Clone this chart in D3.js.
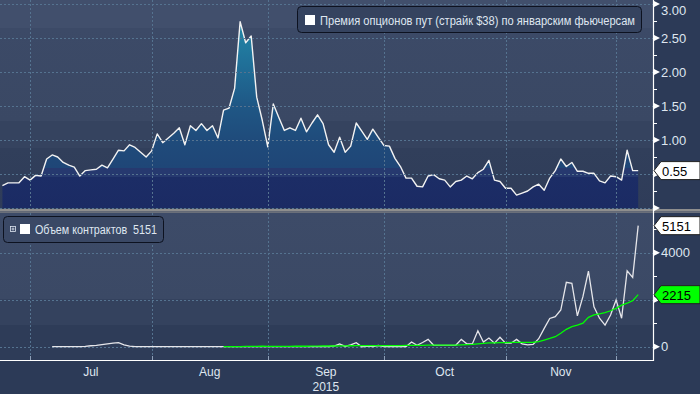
<!DOCTYPE html>
<html>
<head>
<meta charset="utf-8">
<script src="https://cdn.jsdelivr.net/npm/d3@7"></script>
<style>
  body { margin: 0; background: #2c3a57; }
  svg { display: block; font-family: "Liberation Sans", Arial, sans-serif; }
</style>
</head>
<body>
<svg id="chart" width="700" height="394"></svg>
<script>
// put premium, $ (one value per trading day, Jun 24 .. Dec 3)
const premium = [
  0.33, 0.37, 0.37, 0.37, 0.46, 0.41, 0.48, 0.47, 0.72, 0.78,
  0.75, 0.67, 0.63, 0.60, 0.47, 0.55, 0.56, 0.57, 0.63, 0.59,
  0.72, 0.85, 0.84, 0.93, 0.89, 0.82, 0.75, 0.84, 1.09, 0.96,
  1.03, 1.10, 1.18, 0.93, 1.21, 1.14, 1.24, 1.14, 1.21, 1.03,
  1.44, 1.47, 1.76, 2.74, 2.43, 2.53, 1.63, 1.29, 0.90, 1.53,
  1.33, 1.14, 1.18, 1.14, 1.32, 1.12, 1.25, 1.37, 1.24, 0.93,
  0.82, 1.04, 0.82, 0.91, 1.25, 1.13, 1.01, 1.16, 1.04, 0.92,
  0.91, 0.73, 0.61, 0.44, 0.44, 0.32, 0.31, 0.47, 0.49, 0.43,
  0.41, 0.31, 0.39, 0.41, 0.47, 0.43, 0.52, 0.57, 0.70, 0.41,
  0.39, 0.29, 0.29, 0.19, 0.22, 0.25, 0.31, 0.35, 0.26, 0.44,
  0.55, 0.72, 0.61, 0.67, 0.54, 0.54, 0.51, 0.51, 0.40, 0.37,
  0.47, 0.46, 0.41, 0.85, 0.55, 0.55
];

// contract volume (null = no data yet)
const volume = [
  null, null, null, null, null, null, null, null, null, 0,
  0, 0, 0, 0, 0, 10, 40, 60, 90, 120,
  150, 170, 80, 20, 0, 0, 0, 0, 0, 0,
  0, 0, 0, 0, 0, 0, 0, 0, 0, 0,
  0, 0, 0, 0, 0, 0, 0, 0, 0, 0,
  0, 0, 0, 0, 0, 0, 0, 0, 0, 0,
  30, 115, 10, 80, 170, 0, 30, 0, 50, 0,
  0, 0, 0, 0, 200, 60, 180, 310, 60, 60,
  60, 60, 60, 310, 120, 120, 680, 200, 370, 150,
  400, 150, 150, 310, 120, 80, 100, 340, 780, 1200,
  1280, 1560, 2740, 2700, 1310, 2130, 3220, 1700, 1210, 920,
  1350, 1990, 1210, 3230, 2950, 5151
];

// moving average of volume
const volumeAvg = [
  null, null, null, null, null, null, null, null, null, null,
  null, null, null, null, null, null, null, null, null, null,
  null, null, null, null, null, null, null, null, null, null,
  null, null, null, null, null, null, null, null, null, null,
  0, 0, 0, 5, 10, 10, 15, 20, 15, 15,
  15, 15, 15, 20, 20, 20, 25, 25, 30, 30,
  30, 35, 35, 40, 45, 45, 45, 50, 50, 50,
  50, 50, 50, 55, 60, 60, 60, 65, 65, 65,
  65, 65, 70, 80, 90, 100, 120, 140, 160, 165,
  170, 175, 180, 185, 185, 185, 190, 220, 285, 350,
  425, 570, 740, 850, 920, 1000, 1250, 1350, 1400, 1450,
  1530, 1630, 1770, 1850, 1960, 2215
];

const monthStarts = [5, 27, 48, 69, 91, 111];
const monthLabels = ["Jul", "Aug", "Sep", "Oct", "Nov"];
const yearLabel = "2015";

const topTicks = [0, 0.5, 1, 1.5, 2, 2.5, 3];
const topMinor = [0.25, 0.75, 1.25, 1.75, 2.25, 2.75];
const botTicks = [0, 2000, 4000];
const botMinor = [1000, 3000, 5000];

const premiumTitle = "Премия опционов пут (страйк $38) по январским фьючерсам";
const volumeTitle = "Объем контрактов  5151";

const svg = d3.select("#chart");
const axisX = 653;
const textCol = "#dfe6f0";
const gridCol = "#557390";

const x = d3.scaleLinear().domain([0, premium.length - 1]).range([2.4, 638.2]);
const yTop = d3.scaleLinear().domain([0, 3]).range([208, 4]);
const yBot = d3.scaleLinear().domain([0, 4000]).range([346.7, 252.7]);

const lastPremium = premium[premium.length - 1];
const lastVolume = volume[volume.length - 1];
const lastAvg = volumeAvg[volumeAvg.length - 1];

const defs = svg.append("defs");

function vGrad(id, y1, y2, stops) {
  const gr = defs.append("linearGradient").attr("id", id)
    .attr("gradientUnits", "userSpaceOnUse")
    .attr("x1", 0).attr("x2", 0).attr("y1", y1).attr("y2", y2);
  stops.forEach(s => {
    gr.append("stop").attr("offset", (s[0] - y1) / (y2 - y1)).attr("stop-color", s[1]);
  });
}

vGrad("bgTop", 0, 209, [
  [0, "#414f6c"], [28, "#414f6c"], [28, "#3c4a67"], [121, "#3a4864"],
  [121, "#35435f"], [148, "#35435f"], [148, "#313f5b"], [209, "#2f3c59"]
]);
vGrad("bgBot", 213, 360, [
  [213, "#3d4b68"], [299, "#3b4965"], [299, "#34425e"], [325, "#34425e"],
  [325, "#2e3c58"], [360, "#2e3c58"]
]);
vGrad("areaFill", 208, 4, [
  [208, "#1b2b64"], [177, "#1c2d66"], [177, "#26396f"], [168, "#26396f"],
  [168, "#1f4677"], [140, "#1f4b7b"], [106, "#1f5785"], [60, "#20729a"], [20, "#2288a7"], [4, "#2288a7"]
]);

// backgrounds
svg.append("rect").attr("width", 700).attr("height", 394).attr("fill", "#2c3a57");
svg.append("rect").attr("x", 0).attr("y", 0).attr("width", axisX).attr("height", 209).attr("fill", "url(#bgTop)");
svg.append("rect").attr("x", 0).attr("y", 213).attr("width", axisX).attr("height", 147).attr("fill", "url(#bgBot)");

defs.append("clipPath").attr("id", "clipTop").append("rect")
  .attr("x", 0).attr("y", 0).attr("width", axisX).attr("height", 208.5);
defs.append("clipPath").attr("id", "clipBot").append("rect")
  .attr("x", 0).attr("y", 213).attr("width", axisX).attr("height", 147);

// top area
const gTop = svg.append("g").attr("clip-path", "url(#clipTop)");
const area = d3.area().x((d, i) => x(i)).y0(yTop(0)).y1(d => yTop(d));
gTop.append("path").datum(premium).attr("d", area).attr("fill", "url(#areaFill)");

// grid lines
const grid = svg.append("g").attr("stroke", gridCol).attr("stroke-dasharray", "2,2").attr("stroke-width", 1);
grid.selectAll("line.vt").data(monthStarts).join("line")
  .attr("x1", d => Math.round(x(d)) + 0.5).attr("x2", d => Math.round(x(d)) + 0.5)
  .attr("y1", 0).attr("y2", 208);
grid.selectAll("line.vb").data(monthStarts).join("line")
  .attr("class", "vb")
  .attr("x1", d => Math.round(x(d)) + 0.5).attr("x2", d => Math.round(x(d)) + 0.5)
  .attr("y1", 213).attr("y2", 360);
grid.selectAll("line.ht").data(topTicks).join("line")
  .attr("class", "ht")
  .attr("x1", 0).attr("x2", axisX)
  .attr("y1", d => Math.round(yTop(d)) + 0.5).attr("y2", d => Math.round(yTop(d)) + 0.5);
grid.selectAll("line.hb").data(botTicks).join("line")
  .attr("class", "hb")
  .attr("x1", 0).attr("x2", axisX)
  .attr("y1", d => Math.round(yBot(d)) + 0.5).attr("y2", d => Math.round(yBot(d)) + 0.5);

// top line
gTop.append("path").datum(premium)
  .attr("d", d3.line().x((d, i) => x(i)).y(d => yTop(d)))
  .attr("fill", "none").attr("stroke", "#f2f2f2").attr("stroke-width", 1.4)
  .attr("stroke-linejoin", "round");

// bottom lines
const gBot = svg.append("g").attr("clip-path", "url(#clipBot)");
const line = d3.line().defined(d => d != null).x((d, i) => x(i)).y(d => yBot(d));
gBot.append("path").datum(volume).attr("d", line)
  .attr("fill", "none").attr("stroke", "#e6e6ea").attr("stroke-width", 1.3);
gBot.append("path").datum(volumeAvg).attr("d", line)
  .attr("fill", "none").attr("stroke", "#00ff00").attr("stroke-width", 1.3);

// separator
svg.append("rect").attr("x", 0).attr("y", 209).attr("width", 700).attr("height", 2.5).attr("fill", "#8e8e8e");
svg.append("rect").attr("x", 0).attr("y", 211.5).attr("width", 700).attr("height", 1.5).attr("fill", "#6a6f7a");

// axes lines
svg.append("line").attr("x1", axisX + 0.5).attr("x2", axisX + 0.5).attr("y1", 0).attr("y2", 361)
  .attr("stroke", "#ffffff").attr("stroke-width", 1.2);
svg.append("line").attr("x1", 0).attr("x2", axisX + 1).attr("y1", 360.5).attr("y2", 360.5)
  .attr("stroke", "#ffffff").attr("stroke-width", 1.2);

// x ticks & labels
svg.selectAll("line.xt").data(monthStarts).join("line")
  .attr("class", "xt")
  .attr("x1", d => Math.round(x(d)) + 0.5).attr("x2", d => Math.round(x(d)) + 0.5)
  .attr("y1", 356).attr("y2", 360).attr("stroke", "#8fa0b8");
svg.selectAll("text.xl").data(monthLabels).join("text")
  .attr("class", "xl")
  .attr("x", (d, i) => x((monthStarts[i] + monthStarts[i + 1]) / 2))
  .attr("y", 376).attr("text-anchor", "middle")
  .attr("font-size", 12).attr("fill", textCol).text(d => d);
svg.append("text")
  .attr("x", x((monthStarts[2] + monthStarts[3]) / 2)).attr("y", 391)
  .attr("text-anchor", "middle").attr("font-size", 12).attr("fill", textCol).text(yearLabel);

// right axis ticks
function arrowTicks(vals, scale, fmt, showLabel) {
  const g = svg.append("g");
  vals.forEach(v => {
    const yy = scale(v);
    g.append("path").attr("d", `M${axisX + 1},${yy - 3}L${axisX + 7},${yy}L${axisX + 1},${yy + 3}Z`)
      .attr("fill", "#ffffff");
    if (showLabel(v)) {
      g.append("text").attr("x", axisX + 8).attr("y", Math.max(yy + 4.5, 15))
        .attr("font-size", 13).attr("fill", textCol).text(fmt(v));
    }
  });
}
function minorTicks(vals, scale) {
  svg.append("g").selectAll("line").data(vals).join("line")
    .attr("x1", axisX).attr("x2", axisX + 4)
    .attr("y1", d => Math.round(scale(d)) + 0.5).attr("y2", d => Math.round(scale(d)) + 0.5)
    .attr("stroke", "#ffffff");
}
minorTicks(topMinor, yTop);
minorTicks(botMinor, yBot);
// labels hidden where a last-value tag sits on them
arrowTicks(topTicks, yTop, d3.format(".2f"), v => v > 0 && Math.abs(yTop(v) - yTop(lastPremium)) > 14);
arrowTicks(botTicks, yBot, d3.format("d"), v => Math.abs(yBot(v) - yBot(lastAvg)) > 14);

// last-value tags
function tag(yy, label, fill) {
  svg.append("path")
    .attr("d", `M${axisX + 1},${yy}L${axisX + 8},${yy - 9}L700,${yy - 9}L700,${yy + 9}L${axisX + 8},${yy + 9}Z`)
    .attr("fill", fill).attr("stroke", "#222").attr("stroke-width", 1);
  svg.append("text").attr("x", axisX + 9).attr("y", yy + 5)
    .attr("font-size", 13).attr("fill", "#000").text(label);
}
tag(yTop(lastPremium), d3.format(".2f")(lastPremium), "#ffffff");
tag(yBot(lastAvg), lastAvg, "#00ff00");
tag(yBot(lastVolume), lastVolume, "#ffffff");

// legends
const lg1 = svg.append("g");
lg1.append("rect").attr("x", 297.5).attr("y", 6.5).attr("width", 344).attr("height", 26).attr("rx", 4)
  .attr("fill", "#35435f").attr("stroke", "#0d1220");
lg1.append("rect").attr("x", 305).attr("y", 15).attr("width", 10).attr("height", 10).attr("fill", "#ffffff");
lg1.append("text").attr("x", 320).attr("y", 24.5).attr("font-size", 12).attr("fill", textCol)
  .attr("textLength", 315).attr("lengthAdjust", "spacingAndGlyphs").text(premiumTitle);

const lg2 = svg.append("g");
lg2.append("rect").attr("x", 3.5).attr("y", 216.5).attr("width", 160).attr("height", 26).attr("rx", 4)
  .attr("fill", "#3a4865").attr("stroke", "#0d1220");
lg2.append("rect").attr("x", 10.5).attr("y", 226.5).attr("width", 5).attr("height", 5)
  .attr("fill", "none").attr("stroke", textCol).attr("stroke-width", 0.8);
lg2.append("path").attr("d", "M11.5,229h3M13,227.5v3").attr("stroke", textCol).attr("stroke-width", 0.8);
lg2.append("rect").attr("x", 20).attr("y", 224).attr("width", 10).attr("height", 10).attr("fill", "#ffffff");
lg2.append("text").attr("x", 35).attr("y", 234).attr("font-size", 12).attr("fill", textCol)
  .style("white-space", "pre")
  .attr("textLength", 122).attr("lengthAdjust", "spacingAndGlyphs").text(volumeTitle);
</script>
</body>
</html>
